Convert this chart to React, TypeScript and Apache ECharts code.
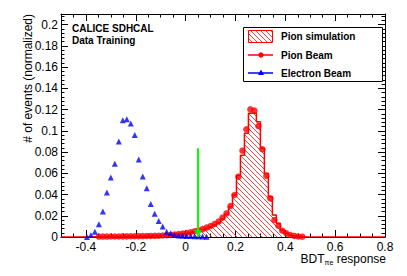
import React, { useEffect, useRef } from "react";
import * as echarts from "echarts";

const xTickLabels = [-0.4, -0.2, 0, 0.2, 0.4, 0.6, 0.8];
const yTickLabels = [0, 0.02, 0.04, 0.06, 0.08, 0.1, 0.12, 0.14, 0.16, 0.18, 0.2];

const electronX = [
  -0.396, -0.38, -0.364, -0.348, -0.332, -0.316, -0.3, -0.284, -0.268, -0.252,
  -0.236, -0.22, -0.204, -0.188, -0.172, -0.156, -0.14, -0.124, -0.108, -0.092,
  -0.076, -0.06, -0.044, -0.028, -0.012, 0.004, 0.02, 0.036, 0.052, 0.068, 0.084,
];
const electronY = [
  0.0, 0.002, 0.005, 0.012, 0.024, 0.042, 0.056, 0.069, 0.09, 0.11,
  0.111, 0.107, 0.096, 0.073, 0.057, 0.046, 0.031, 0.022, 0.015, 0.01,
  0.005, 0.0035, 0.002, 0.0015, 0.0012, 0.001, 0.001, 0.0008, 0.0006, 0.0005, 0.0003,
];

const pionX = [
  -0.348, -0.332, -0.316, -0.3, -0.284, -0.268, -0.252, -0.236, -0.22, -0.204,
  -0.188, -0.172, -0.156, -0.14, -0.124, -0.108, -0.092, -0.076, -0.06, -0.044,
  -0.028, -0.012, 0.004, 0.02, 0.036, 0.052, 0.068, 0.084, 0.1, 0.116,
  0.132, 0.148, 0.164, 0.18, 0.196, 0.212, 0.228, 0.244, 0.26, 0.276,
  0.292, 0.308, 0.324, 0.34, 0.356, 0.372, 0.388, 0.404, 0.42, 0.436,
  0.452, 0.468,
];
const pionY = [
  0.0004, 0.0004, 0.0004, 0.0005, 0.0005, 0.0005, 0.0006, 0.0006, 0.0007, 0.0007,
  0.0008, 0.0008, 0.0009, 0.001, 0.0011, 0.0012, 0.0014, 0.0016, 0.0019, 0.0023,
  0.0027, 0.0032, 0.0038, 0.0045, 0.0054, 0.0063, 0.0074, 0.0088, 0.0104, 0.0122,
  0.0146, 0.0182, 0.0222, 0.0292, 0.0395, 0.0568, 0.0813, 0.1014, 0.1202, 0.119,
  0.1045, 0.0826, 0.0574, 0.0364, 0.016, 0.0106, 0.0059, 0.0035, 0.0019, 0.001,
  0.0005, 0.0003,
];

const simX = [
  -0.5, -0.348, -0.332, -0.316, -0.3, -0.284, -0.268, -0.252, -0.236, -0.22, -0.204,
  -0.188, -0.172, -0.156, -0.14, -0.124, -0.108, -0.092, -0.076, -0.06, -0.044,
  -0.028, -0.012, 0.004, 0.02, 0.036, 0.052, 0.068, 0.084, 0.1, 0.116,
  0.132, 0.148, 0.164, 0.18, 0.196, 0.212, 0.228, 0.244, 0.26, 0.276,
  0.292, 0.308, 0.324, 0.34, 0.356, 0.372, 0.388, 0.404, 0.42, 0.436,
  0.452, 0.468, 0.484, 0.8,
];
const simY = [
  0, 0.0003, 0.0003, 0.0004, 0.0004, 0.0005, 0.0005, 0.0005, 0.0006, 0.0006, 0.0007,
  0.0007, 0.0008, 0.0009, 0.001, 0.0011, 0.0012, 0.0013, 0.0015, 0.0018, 0.0022,
  0.0026, 0.003, 0.0036, 0.0042, 0.005, 0.0058, 0.0068, 0.008, 0.0095, 0.0112,
  0.0135, 0.017, 0.0215, 0.0285, 0.0395, 0.058, 0.077, 0.0976, 0.1165, 0.1165,
  0.1085, 0.0835, 0.06, 0.038, 0.0207, 0.0129, 0.0066, 0.0038, 0.002, 0.001,
  0.0005, 0.0002, 0, 0,
];

const cutX = 0.05;
const cutTop = 0.0835;

const FONT = "Liberation Sans, Arial, Helvetica, sans-serif";

function makeHatch(): HTMLCanvasElement {
  const n = 5;
  const c = document.createElement("canvas");
  c.width = n;
  c.height = n;
  const ctx = c.getContext("2d")!;
  ctx.strokeStyle = "#ff2a2a";
  ctx.lineWidth = 0.9;
  ctx.beginPath();
  ctx.moveTo(-1, -1);
  ctx.lineTo(n + 1, n + 1);
  ctx.moveTo(-1, n - 1);
  ctx.lineTo(1, n + 1);
  ctx.moveTo(n - 1, -1);
  ctx.lineTo(n + 1, 1);
  ctx.stroke();
  return c;
}

export default function App() {
  const ref = useRef<HTMLDivElement>(null);
  useEffect(() => {
    if (!ref.current) return;
    const chart = echarts.init(ref.current, undefined, { renderer: "svg" });
    const hatch = { image: makeHatch(), repeat: "repeat" } as any;

    const baseX = {
      type: "value",
      min: -0.5,
      max: 0.8,
      splitLine: { show: false },
    };
    const baseY = {
      type: "value",
      min: 0,
      max: 0.21,
      splitLine: { show: false },
    };
    const tickStyle = { color: "#000", width: 1 };

    const option: any = {
      animation: false,
      grid: { left: 61, right: 22, top: 14, bottom: 39, containLabel: false },
      xAxis: [
        {
          ...baseX,
          position: "bottom",
          axisLine: { show: true, onZero: false, lineStyle: { color: "#000", width: 1 } },
          axisTick: { show: true, inside: true, length: 7, customValues: xTickLabels, lineStyle: tickStyle },
          axisLabel: { customValues: xTickLabels, color: "#000", fontSize: 12, fontFamily: FONT, margin: 4 },
        },
        {
          ...baseX,
          interval: 0.05,
          position: "bottom",
          axisLine: { show: false, onZero: false },
          axisTick: { show: true, inside: true, length: 3.5, lineStyle: tickStyle },
          axisLabel: { show: false },
        },
        {
          ...baseX,
          position: "top",
          axisLine: { show: true, onZero: false, lineStyle: { color: "#000", width: 1 } },
          axisTick: { show: true, inside: true, length: 7, customValues: xTickLabels, lineStyle: tickStyle },
          axisLabel: { show: false },
        },
        {
          ...baseX,
          interval: 0.05,
          position: "top",
          axisLine: { show: false, onZero: false },
          axisTick: { show: true, inside: true, length: 3.5, lineStyle: tickStyle },
          axisLabel: { show: false },
        },
      ],
      yAxis: [
        {
          ...baseY,
          position: "left",
          axisLine: { show: true, onZero: false, lineStyle: { color: "#000", width: 1 } },
          axisTick: { show: true, inside: true, length: 7, customValues: yTickLabels, lineStyle: tickStyle },
          axisLabel: { customValues: yTickLabels, color: "#000", fontSize: 12, fontFamily: FONT, margin: 3 },
        },
        {
          ...baseY,
          interval: 0.004,
          position: "left",
          axisLine: { show: false, onZero: false },
          axisTick: { show: true, inside: true, length: 3.5, lineStyle: tickStyle },
          axisLabel: { show: false },
        },
        {
          ...baseY,
          position: "right",
          axisLine: { show: true, onZero: false, lineStyle: { color: "#000", width: 1 } },
          axisTick: { show: true, inside: true, length: 7, customValues: yTickLabels, lineStyle: tickStyle },
          axisLabel: { show: false },
        },
        {
          ...baseY,
          interval: 0.004,
          position: "right",
          axisLine: { show: false, onZero: false },
          axisTick: { show: true, inside: true, length: 3.5, lineStyle: tickStyle },
          axisLabel: { show: false },
        },
      ],
      series: [
        {
          name: "Pion simulation",
          type: "line",
          step: "middle",
          data: simX.map((x, i) => [x, simY[i]]),
          symbol: "none",
          lineStyle: { color: "#ff0000", width: 1.5 },
          areaStyle: { color: hatch, opacity: 1, origin: "start" },
          z: 1,
          silent: true,
        },
        {
          name: "Pion Beam",
          type: "scatter",
          data: pionX.map((x, i) => [x, pionY[i]]),
          symbol: "circle",
          symbolSize: 6.5,
          itemStyle: { color: "#ff0000" },
          z: 3,
          silent: true,
        },
        {
          name: "Electron Beam",
          type: "scatter",
          data: electronX.map((x, i) => [x, electronY[i]]),
          symbol: "triangle",
          symbolSize: 6,
          itemStyle: { color: "#0000ff" },
          z: 4,
          silent: true,
          markLine: {
            silent: true,
            symbol: ["none", "none"],
            label: { show: false },
            lineStyle: { color: "#00ff00", width: 2, type: "solid" },
            emphasis: { disabled: true },
            data: [[{ coord: [cutX, cutTop] }, { coord: [cutX, 0] }]],
            z: 10,
          },
        },
        {
          name: "cut",
          type: "scatter",
          data: [[cutX, 0]],
          symbol: "triangle",
          symbolRotate: 180,
          symbolSize: [8, 7],
          symbolOffset: [0, -3.5],
          itemStyle: { color: "#00ff00" },
          z: 11,
          silent: true,
          clip: false,
        },
      ],
      graphic: [
        {
          type: "text",
          x: 72,
          y: 28.5,
          style: { text: "CALICE SDHCAL", font: `bold 10px ${FONT}`, fill: "#000", verticalAlign: "middle" },
        },
        {
          type: "text",
          x: 72,
          y: 40,
          style: { text: "Data Training", font: `bold 10px ${FONT}`, fill: "#000", verticalAlign: "middle" },
        },
        {
          type: "text",
          x: 28,
          y: 14,
          rotation: Math.PI / 2,
          style: {
            text: "# of events (normalized)",
            font: `12px ${FONT}`,
            fill: "#000",
            align: "right",
            verticalAlign: "middle",
          },
        },
        {
          type: "text",
          x: 386,
          y: 259,
          style: {
            text: "{a|BDT}{s|πe}{a| response}",
            align: "right",
            verticalAlign: "middle",
            rich: {
              a: { font: `12px ${FONT}`, fill: "#000" },
              s: { font: `7px ${FONT}`, fill: "#000", padding: [6, 0, 0, 0] },
            },
          },
        },
        {
          type: "rect",
          shape: { x: 243.5, y: 27.5, width: 139, height: 54 },
          style: { fill: "#fff", stroke: "#000", lineWidth: 1 },
          z: 20,
        },
        {
          type: "rect",
          shape: { x: 248.5, y: 30.5, width: 24, height: 12 },
          style: { fill: hatch, stroke: "#ff0000", lineWidth: 1 },
          z: 21,
        },
        {
          type: "line",
          shape: { x1: 248, y1: 55, x2: 273, y2: 55 },
          style: { stroke: "#ff0000", lineWidth: 1.5 },
          z: 21,
        },
        {
          type: "circle",
          shape: { cx: 261, cy: 55, r: 2.6 },
          style: { fill: "#ff0000" },
          z: 22,
        },
        {
          type: "line",
          shape: { x1: 248, y1: 73, x2: 273, y2: 73 },
          style: { stroke: "#0000ff", lineWidth: 1.5 },
          z: 21,
        },
        {
          type: "polygon",
          shape: { points: [[261, 69.5], [264, 75], [258, 75]] },
          style: { fill: "#0000ff" },
          z: 22,
        },
        {
          type: "text",
          x: 281,
          y: 36.5,
          z: 22,
          style: { text: "Pion simulation", font: `bold 10px ${FONT}`, fill: "#000", verticalAlign: "middle" },
        },
        {
          type: "text",
          x: 281,
          y: 55,
          z: 22,
          style: { text: "Pion Beam", font: `bold 10px ${FONT}`, fill: "#000", verticalAlign: "middle" },
        },
        {
          type: "text",
          x: 281,
          y: 73.5,
          z: 22,
          style: { text: "Electron Beam", font: `bold 10px ${FONT}`, fill: "#000", verticalAlign: "middle" },
        },
      ],
    };
    chart.setOption(option);
    return () => chart.dispose();
  }, []);
  return (
    <div
      ref={ref}
      style={{ position: "fixed", left: 0, top: 0, width: 407, height: 276, background: "#fff" }}
    />
  );
}
